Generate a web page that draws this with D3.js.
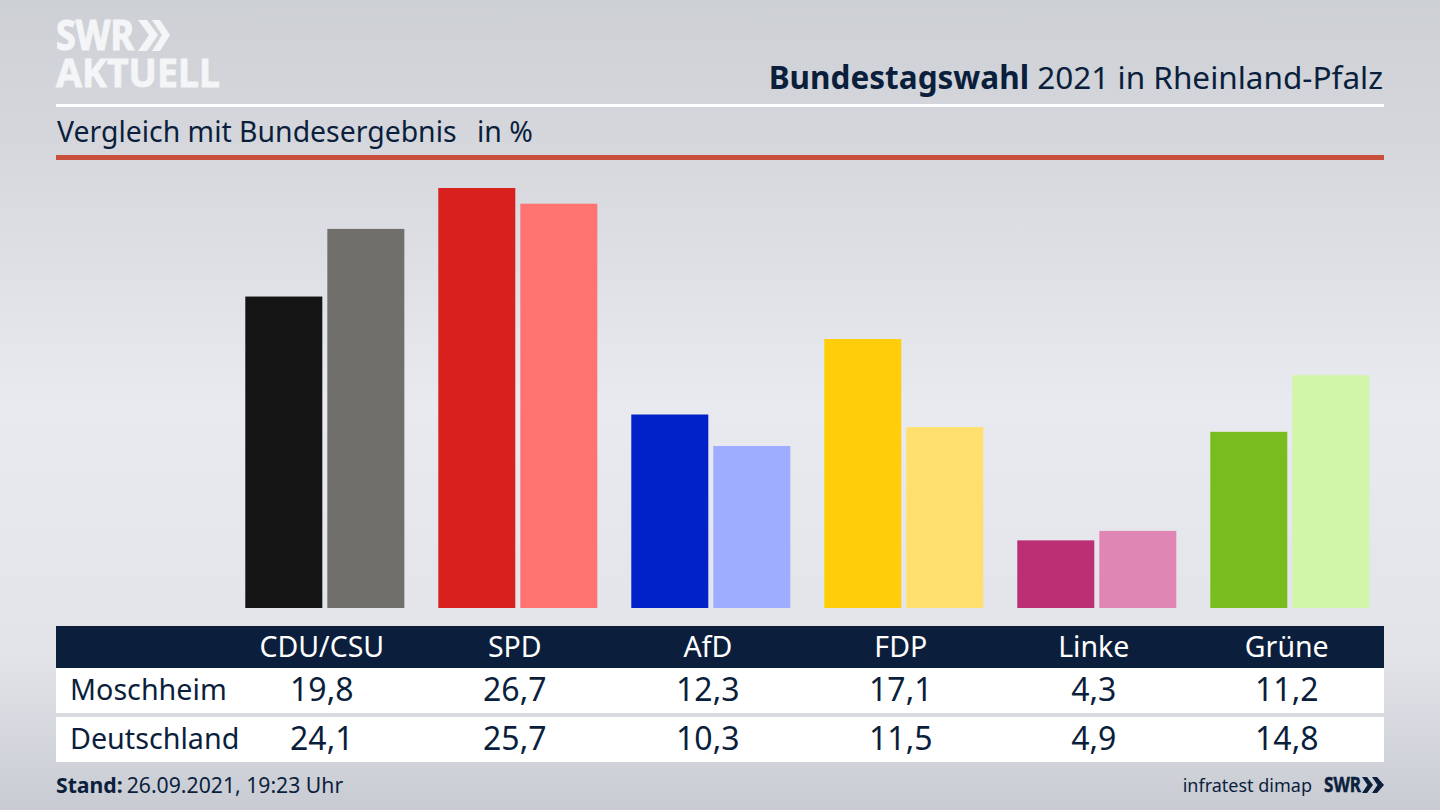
<!DOCTYPE html>
<html>
<head>
<meta charset="utf-8">
<script src="https://cdn.jsdelivr.net/npm/d3@7"></script>
<style>
html, body { margin: 0; padding: 0; background: #d5d7dd; }
svg { display: block; }
text { font-family: "Noto Sans", sans-serif; fill: #0b1f3d; }
.b { font-weight: 700; }
</style>
</head>
<body>
<svg id="main" width="1440" height="810"></svg>
<script>
var parties = ["CDU/CSU", "SPD", "AfD", "FDP", "Linke", "Grüne"];
var rows = ["Moschheim", "Deutschland"];
var moschheim = [19.8, 26.7, 12.3, 17.1, 4.3, 11.2];
var deutschland = [24.1, 25.7, 10.3, 11.5, 4.9, 14.8];
var colorsLocal = ["#141414", "#d8201f", "#0022c8", "#ffcd0a", "#bc2f75", "#78bc1e"];
var colorsFed = ["#706f6c", "#ff7370", "#9eadff", "#ffe06e", "#e086b5", "#d2f6a8"];
var fmt = function(v) { return d3.format(".1f")(v).replace(".", ","); };

var navy = "#0b1f3d";
var svg = d3.select("#main");

// background
var defs = svg.append("defs");
var bg = defs.append("linearGradient").attr("id", "bg").attr("x1", 0).attr("y1", 0).attr("x2", 0).attr("y2", 1);
bg.append("stop").attr("offset", "0%").attr("stop-color", "#cdd0d5");
bg.append("stop").attr("offset", "18%").attr("stop-color", "#d5d7dc");
bg.append("stop").attr("offset", "50%").attr("stop-color", "#e9eaef");
bg.append("stop").attr("offset", "80%").attr("stop-color", "#e2e4e9");
bg.append("stop").attr("offset", "100%").attr("stop-color", "#c8cbd2");
svg.append("rect").attr("width", 1440).attr("height", 810).attr("fill", "url(#bg)");

// logo
var logo = svg.append("g").attr("fill", "#f4f5f7");
logo.append("text").attr("x", 56).attr("y", 50).attr("class", "b").style("fill", "#f4f5f7").style("stroke", "#f4f5f7").style("stroke-width", 1.2)
	.attr("font-size", 41).attr("textLength", 78).attr("lengthAdjust", "spacingAndGlyphs").text("SWR");
logo.append("text").attr("x", 56).attr("y", 87).attr("class", "b").style("fill", "#f4f5f7").style("stroke", "#f4f5f7").style("stroke-width", 0.8)
	.attr("font-size", 40).attr("textLength", 164).attr("lengthAdjust", "spacingAndGlyphs").text("AKTUELL");
logo.append("path").attr("d", "M138,20 L147,20 L158,35 L147,51 L138,51 L149,35 Z");
logo.append("path").attr("d", "M152,20 L160,20 L170,35 L160,51 L152,51 L162,35 Z");

// header
var title = svg.append("text").attr("x", 1383).attr("y", 89).attr("text-anchor", "end").attr("font-size", 31.5);
title.append("tspan").attr("class", "b").text("Bundestagswahl");
title.append("tspan").text(" 2021 in Rheinland-Pfalz");
svg.append("rect").attr("x", 56).attr("y", 104).attr("width", 1328).attr("height", 3).attr("fill", "#ffffff");
svg.append("text").attr("x", 57).attr("y", 142).attr("font-size", 28.4).text("Vergleich mit Bundesergebnis");
svg.append("text").attr("x", 477).attr("y", 142).attr("font-size", 28.4).text("in %");
svg.append("rect").attr("x", 56).attr("y", 155).attr("width", 1328).attr("height", 5).attr("fill", "#c9503c");

// bars
var x = d3.scaleBand().domain(parties).range([245.3, 1369.3]).paddingInner(0.176).paddingOuter(0);
var x2 = d3.scaleBand().domain(rows).range([0, x.bandwidth()]).paddingInner(0.061);
var y = d3.scaleLinear().domain([0, 26.7]).range([608, 188]);
[[moschheim, colorsLocal, rows[0]], [deutschland, colorsFed, rows[1]]].forEach(function(s) {
	svg.append("g").selectAll("rect").data(s[0]).join("rect")
		.attr("x", function(d, i) { return x(parties[i]) + x2(s[2]); })
		.attr("y", function(d) { return y(d); })
		.attr("width", x2.bandwidth())
		.attr("height", function(d) { return y(0) - y(d); })
		.attr("fill", function(d, i) { return s[1][i]; });
});

// table, columns are centred on the dark bar's right edge
var cx = function(p) { return x(p) + x2.bandwidth() - 0.5; };
svg.append("rect").attr("x", 56).attr("y", 626).attr("width", 1328).attr("height", 42).attr("fill", navy);
svg.append("g").selectAll("text").data(parties).join("text")
	.attr("x", cx).attr("y", 657).attr("text-anchor", "middle").attr("font-size", 28.5)
	.style("fill", "#ffffff").text(function(d) { return d; });

var rowTop = [668, 717];
var rowBase = [701, 750];
[moschheim, deutschland].forEach(function(vals, r) {
	svg.append("rect").attr("x", 56).attr("y", rowTop[r]).attr("width", 1328).attr("height", 45).attr("fill", "#ffffff");
	svg.append("text").attr("x", 70).attr("y", rowBase[r] - 1).attr("font-size", 28.7).text(rows[r]);
	svg.append("g").selectAll("text").data(vals).join("text")
		.attr("x", function(d, i) { return cx(parties[i]); })
		.attr("y", rowBase[r]).attr("text-anchor", "middle").attr("font-size", 32)
		.text(fmt);
});

// footer
var stand = svg.append("text").attr("x", 56).attr("y", 793).attr("font-size", 21.2);
stand.append("tspan").attr("class", "b").text("Stand:");
stand.append("tspan").attr("dx", 4).text("26.09.2021, 19:23 Uhr");
svg.append("text").attr("x", 1312).attr("y", 792).attr("text-anchor", "end").attr("font-size", 18).text("infratest dimap");
svg.append("text").attr("x", 1324).attr("y", 792).attr("class", "b").attr("font-size", 21)
	.style("stroke", navy).style("stroke-width", 0.5)
	.attr("textLength", 37).attr("lengthAdjust", "spacingAndGlyphs").text("SWR");
svg.append("path").attr("fill", navy).attr("d", "M1362,777 L1367,777 L1373,785 L1367,793 L1362,793 L1367.5,785 Z");
svg.append("path").attr("fill", navy).attr("d", "M1372,777 L1377,777 L1384,785 L1377,793 L1372,793 L1377.5,785 Z");
</script>
</body>
</html>
